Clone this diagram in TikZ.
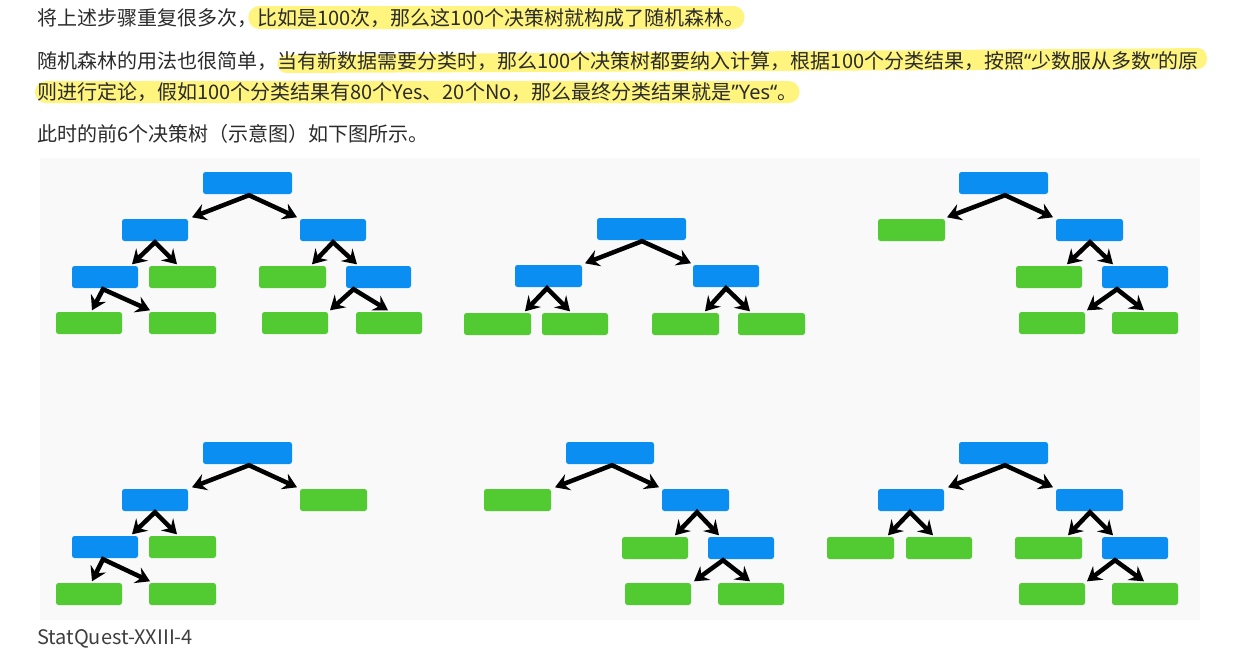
\documentclass[tikz,border=0pt]{standalone}
\usepackage{fontspec}
\setmainfont{Noto Sans CJK SC}
\newfontfamily\latq{Noto Sans}
\usetikzlibrary{arrows.meta,calc,backgrounds}
\definecolor{hl}{HTML}{FFF47E}
\definecolor{txtc}{HTML}{2B2B2B}
\definecolor{capc}{HTML}{3F3F3F}
\definecolor{nblue}{HTML}{0A8EF2}
\definecolor{ngreen}{HTML}{52CB32}
\definecolor{panel}{HTML}{F9F9FA}
\tikzset{
  txt/.style={inner sep=0pt, text=txtc, font=\fontsize{20pt}{24pt}\selectfont},
  treebox/.style={rounded corners=2.5pt, inner sep=0pt, minimum height=22pt},
  arr/.style={line width=4.5pt, line join=miter,
    {Stealth[length=14pt,width=17pt,inset=5pt]}-{Stealth[length=14pt,width=17pt,inset=5pt]}},
  hlfill/.style={fill=hl}
}
\newcommand\nb[6]{\node[treebox, fill=#6, minimum width={(#4-#2)*1pt}] (#1) at ({(#2+#4)/2},{(#3+#5)/2}) {};}
\newcommand\fork[6]{\draw[arr] ([xshift=#4pt,yshift=1.5pt]#3.north) -- ([xshift=#2pt,yshift=-1pt]#1.south) -- ([xshift=#6pt,yshift=1.5pt]#5.north);}
\begin{document}
\begin{tikzpicture}[x=1pt,y=-1pt]
\useasboundingbox (0,0) rectangle (1241,667);

% text
\node[txt, anchor=base west] (l1a) at (37,25) {将上述步骤重复很多次，};
\node[txt, anchor=base west] (l1b) at (l1a.base east) {比如是100次，那么这100个决策树就构成了随机森林。};
\node[txt, anchor=base west] (l2a) at (37,68) {随机森林的用法也很简单，};
\node[txt, anchor=base west] (l2b) at (l2a.base east) {当有新数据需要分类时，那么100个决策树都要纳入计算，根据100个分类结果，按照{\latq “}少数服从多数{\latq ”}的原};
\node[txt, anchor=base west] (l3) at (37,99) {则进行定论，假如100个分类结果有80个Yes、20个No，那么最终分类结果就是{\latq ”Yes“}。};
\node[txt, anchor=base west] (l4) at (37,141) {此时的前6个决策树（示意图）如下图所示。};
\node[inner sep=0pt, anchor=base west, text=capc, font=\fontsize{20pt}{22pt}\selectfont] (cap) at (37,644) {StatQuest-XXIII-4};

\begin{scope}[on background layer]
\fill[white] (0,0) rectangle (1241,667);
\fill[panel] (40,158) rectangle (1200,620);
\fill[hlfill, rounded corners=11pt] ($(l1b.base west)+(-9,-19)$) rectangle ($(l1b.base east)+(0,4)$);
\fill[hlfill, rounded corners=9pt] ($(l2b.base west)+(0,-13)$) -- ($(l2b.base east)+(8,-20)$) -- ($(l2b.base east)+(8,1)$) -- ($(l2b.base west)+(0,5)$) -- cycle;
\fill[hlfill, rounded corners=11pt] ($(l3.base west)+(-2,-18)$) rectangle ($(l3.base east)+(2,4)$);
\end{scope}

% tree 1
\nb{ar}{203}{172}{292}{194}{nblue}
\nb{aa}{122}{219}{188}{241}{nblue}
\nb{ab}{300}{219}{366}{241}{nblue}
\nb{ac}{72}{266}{138}{288}{nblue}
\nb{ad}{149}{266}{216}{288}{ngreen}
\nb{ae}{259}{266}{326}{288}{ngreen}
\nb{af}{346}{266}{411}{288}{nblue}
\nb{ag}{56}{312}{122}{334}{ngreen}
\nb{ah}{149}{312}{216}{334}{ngreen}
\nb{ai}{262}{312}{328}{334}{ngreen}
\nb{aj}{356}{312}{422}{334}{ngreen}
\fork{ar}{1.5}{aa}{37}{ab}{-36}
\fork{aa}{0}{ac}{27}{ad}{-5.5}
\fork{ac}{-2}{ag}{3}{ah}{-32.5}
\fork{ab}{0}{ae}{19.5}{af}{-21.5}
\fork{af}{-25}{ai}{35}{aj}{-1}

% tree 2
\nb{br}{597}{218}{686}{240}{nblue}
\nb{ba}{515}{265}{582}{287}{nblue}
\nb{bb}{693}{265}{759}{287}{nblue}
\nb{bc}{464}{313}{531}{335}{ngreen}
\nb{bd}{542}{313}{608}{335}{ngreen}
\nb{be}{652}{313}{719}{335}{ngreen}
\nb{bf}{738}{313}{805}{335}{ngreen}
\fork{br}{0.5}{ba}{36.5}{bb}{-35}
\fork{ba}{-1.5}{bc}{27.5}{bd}{-5}
\fork{bb}{0}{be}{19.5}{bf}{-21.5}

% tree 3
\nb{cr}{959}{172}{1048}{194}{nblue}
\nb{ca}{878}{219}{945}{241}{ngreen}
\nb{cb}{1056}{219}{1123}{241}{nblue}
\nb{cc}{1016}{266}{1082}{288}{ngreen}
\nb{cd}{1102}{266}{1168}{288}{nblue}
\nb{ce}{1019}{312}{1085}{334}{ngreen}
\nb{cf}{1112}{312}{1178}{334}{ngreen}
\fork{cr}{1.5}{ca}{35.5}{cb}{-36.5}
\fork{cb}{0.5}{cc}{18}{cd}{-22}
\fork{cd}{-18}{ce}{35}{cf}{-1}

% tree 4
\nb{dr}{203}{442}{292}{464}{nblue}
\nb{da}{122}{489}{188}{511}{nblue}
\nb{db}{300}{489}{367}{511}{ngreen}
\nb{dc}{72}{536}{138}{558}{nblue}
\nb{dd}{149}{536}{216}{558}{ngreen}
\nb{de}{56}{583}{122}{605}{ngreen}
\nb{df}{149}{583}{216}{605}{ngreen}
\fork{dr}{1.5}{da}{37}{db}{-36.5}
\fork{da}{0}{dc}{27}{dd}{-5.5}
\fork{dc}{-2}{de}{3}{df}{-32.5}

% tree 5
\nb{er}{566}{442}{654}{464}{nblue}
\nb{ea}{484}{489}{551}{511}{ngreen}
\nb{eb}{662}{489}{729}{511}{nblue}
\nb{ec}{622}{537}{688}{559}{ngreen}
\nb{ed}{708}{537}{774}{559}{nblue}
\nb{ee}{625}{583}{691}{605}{ngreen}
\nb{ef}{718}{583}{784}{605}{ngreen}
\fork{er}{2}{ea}{37.5}{eb}{-36.5}
\fork{eb}{1.5}{ec}{20}{ed}{-22}
\fork{ed}{-18}{ee}{36}{ef}{-1}

% tree 6
\nb{fr}{959}{442}{1048}{464}{nblue}
\nb{fa}{878}{489}{944}{511}{nblue}
\nb{fb}{1056}{489}{1123}{511}{nblue}
\nb{fc}{827}{537}{894}{559}{ngreen}
\nb{fd}{906}{537}{972}{559}{ngreen}
\nb{fe}{1015}{537}{1082}{559}{ngreen}
\nb{ff}{1102}{537}{1168}{559}{nblue}
\nb{fg}{1019}{583}{1085}{605}{ngreen}
\nb{fh}{1112}{583}{1178}{605}{ngreen}
\fork{fr}{1.5}{fa}{37}{fb}{-36.5}
\fork{fa}{-1}{fc}{27.5}{fd}{-6}
\fork{fb}{0.5}{fe}{19.5}{ff}{-22}
\fork{ff}{-20}{fg}{35}{fh}{-1}
\end{tikzpicture}
\end{document}
